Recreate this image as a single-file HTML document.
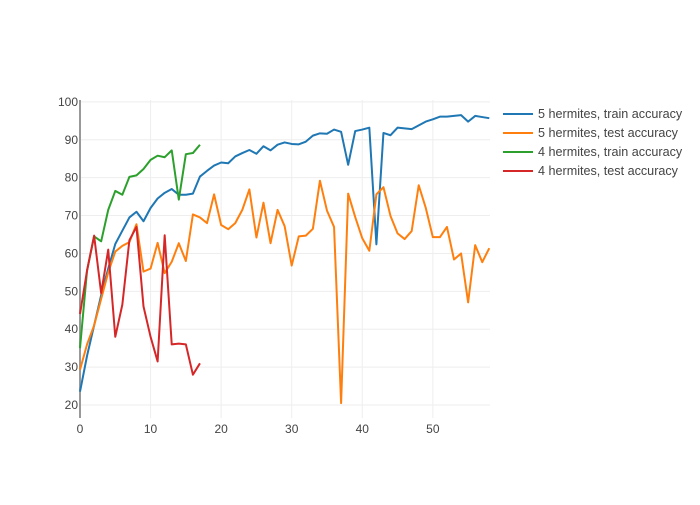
<!DOCTYPE html>
<html><head><meta charset="utf-8"><style>
body{margin:0;background:#fff}
svg text{font-family:"Liberation Sans",sans-serif;fill:#444;font-size:12px}
svg text.leg{font-size:12.6px}
</style></head><body>
<svg id="chart" width="700" height="500" xmlns="http://www.w3.org/2000/svg"></svg>
<script>
const xTicks=[0,10,20,30,40,50];
const yTicks=[20,30,40,50,60,70,80,90,100];
const seriesNames=["5 hermites, train accuracy","5 hermites, test accuracy","4 hermites, train accuracy","4 hermites, test accuracy"];
const seriesColors=["#1f77b4","#ff7f0e","#2ca02c","#d62728"];
const train5=[23.5,33,41,49,56,62.5,66,69.5,71,68.5,72,74.5,76,77,75.5,75.5,75.8,80.3,81.8,83.2,84,83.8,85.6,86.5,87.3,86.3,88.3,87.2,88.7,89.3,88.9,88.8,89.5,91.1,91.7,91.6,92.7,92.1,83.4,92.3,92.7,93.2,62.4,91.8,91.2,93.2,93,92.8,93.8,94.8,95.4,96.1,96.1,96.3,96.5,94.8,96.3,96,95.7];
const test5=[29.3,36,41,48,55,60.5,62,63,67.7,55.2,56,62.8,54.8,57.8,62.7,58,70.3,69.5,68,75.6,67.5,66.4,68,71.5,76.9,64.2,73.4,62.7,71.5,67.2,56.8,64.5,64.7,66.5,79.2,71.3,67,20.5,75.8,69.6,64,60.7,75.6,77.5,69.9,65.3,63.8,65.9,78,72,64.3,64.3,67,58.4,60,47.1,62.2,57.7,61.4];
const train4=[35,55.5,64.5,63.2,71.5,76.5,75.5,80.2,80.6,82.3,84.7,85.8,85.4,87.2,74.2,86.2,86.5,88.7];
const test4=[44,55.5,64.7,49.5,61,38,46.5,63.5,67,46,38,31.5,64.8,36,36.2,36,28,31];
const allSeries=[train5,test5,train4,test4];
const L=80,R=490,T=100,B=418,xMin=0,xMax=58.1,yMin=16.57,yMax=100.5;
const xs=v=>L+(v-xMin)/(xMax-xMin)*(R-L);
const ys=v=>B-(v-yMin)/(yMax-yMin)*(B-T);
const svg=document.getElementById('chart');
const NS="http://www.w3.org/2000/svg";
function mk(tag,attrs,parent){const e=document.createElementNS(NS,tag);for(const k in attrs)e.setAttribute(k,attrs[k]);(parent||svg).appendChild(e);return e;}
xTicks.forEach(t=>{
 const g=mk('line',{x1:xs(t),x2:xs(t),y1:T,y2:B,stroke:'#eee','stroke-width':1});
 
 
 const tx=mk('text',{x:xs(t),y:B+15,'text-anchor':'middle'});tx.textContent=t;
 
 
});
yTicks.forEach(t=>{
 const g=mk('line',{x1:L,x2:R,y1:ys(t),y2:ys(t),stroke:'#eee','stroke-width':1});
 
 
 const tx=mk('text',{x:L-2,y:ys(t)+4,'text-anchor':'end'});tx.textContent=t;
 
 
});
const ax=mk('line',{x1:L,x2:L,y1:T,y2:B,stroke:'#999','stroke-width':2});


allSeries.forEach((s,i)=>{
 const p=mk('polyline',{points:s.map((v,j)=>xs(j)+','+ys(v)).join(' '),fill:'none',stroke:seriesColors[i],'stroke-width':2,'stroke-linejoin':'round'});
 
 
 const ly=114+i*19;
 const g=mk('g',{});
 
 
 mk('line',{x1:503,x2:533,y1:ly,y2:ly,stroke:seriesColors[i],'stroke-width':2},g);
 const t=mk('text',{x:538,y:ly+4,'class':'leg'},g);t.textContent=seriesNames[i];
});
</script>
</body></html>
